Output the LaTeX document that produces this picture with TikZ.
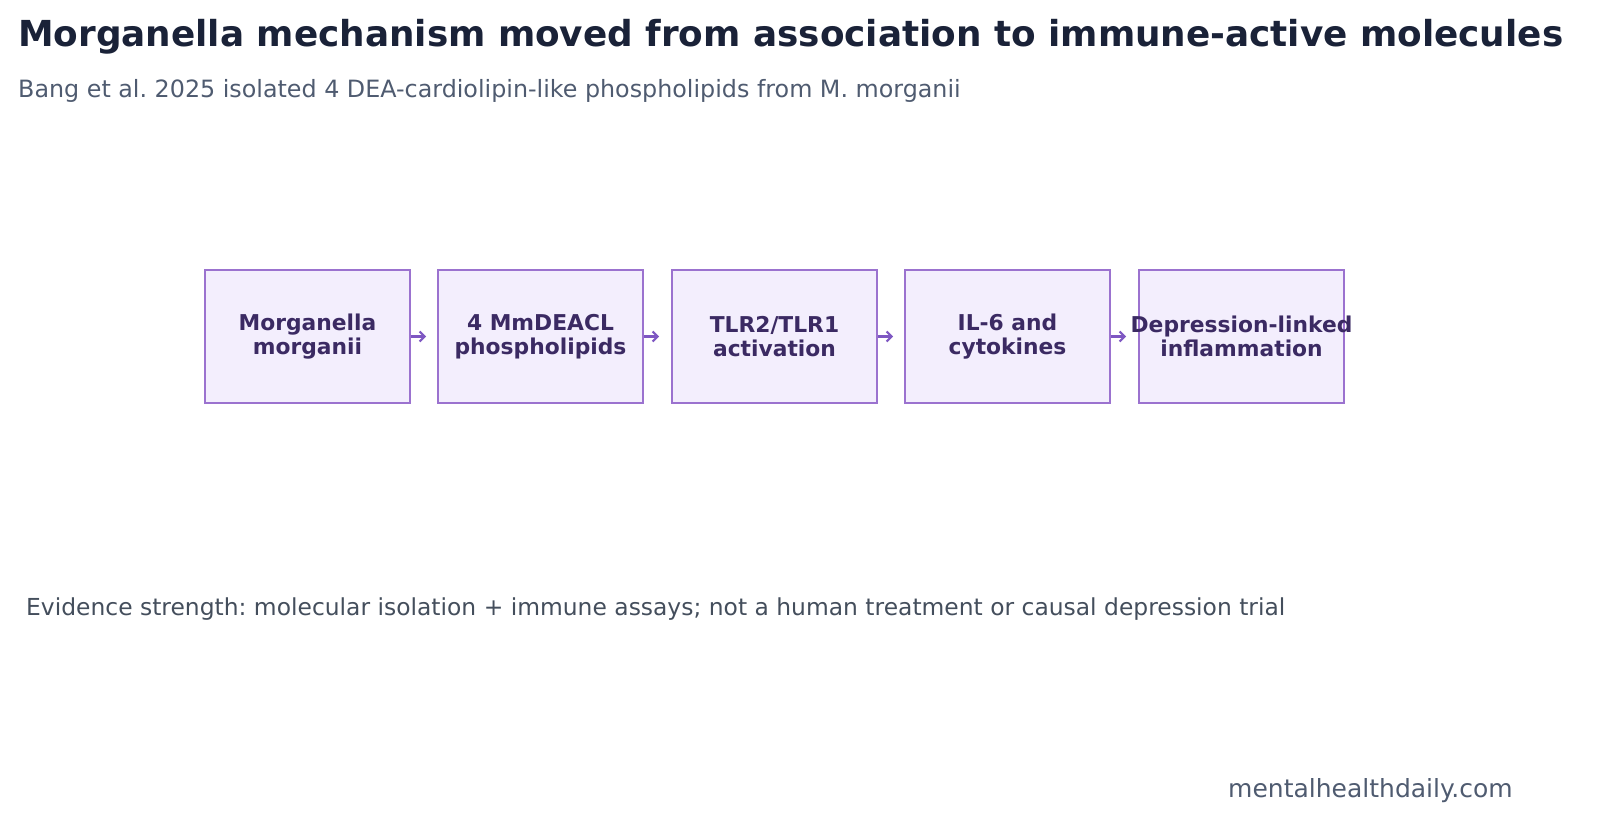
\documentclass[tikz,border=0pt]{standalone}
\usepackage{fontspec}
\setmainfont{DejaVu Sans}
\usetikzlibrary{arrows.meta}
\definecolor{titlec}{HTML}{1A2238}
\definecolor{subc}{HTML}{4F5B70}
\definecolor{boxfill}{HTML}{F3EEFD}
\definecolor{boxline}{HTML}{9B72CF}
\definecolor{boxtext}{HTML}{3B2A63}
\definecolor{arrc}{HTML}{7E57C2}
\definecolor{evc}{HTML}{444E5C}
\frenchspacing
\tikzset{
 stepbox/.style={draw=boxline,line width=2.4pt,fill=boxfill,minimum width=205pt,minimum height=133pt,inner sep=0pt,align=center,text=boxtext,font=\fontsize{21.8}{24.5}\selectfont\bfseries},
 flow/.style={draw=arrc,line width=2.2pt,-{Straight Barb[length=5pt,width=10pt]}}
}
\begin{document}
\begin{tikzpicture}[x=1pt,y=-1pt]
\useasboundingbox (0,0) rectangle (1597,819);
\node[anchor=base west,text=titlec,font=\fontsize{35.8}{40}\selectfont\bfseries,inner sep=0pt] (t) at (18,46) {Morganella mechanism moved from association to immune-active molecules};
\node[anchor=base west,text=subc,font=\fontsize{23.8}{28}\selectfont,inner sep=0pt] (s) at (18,97) {Bang et al. 2025 isolated 4 DEA-cardiolipin-like phospholipids from M. morganii};
\node[stepbox] (b1) at (307.5,336.5) {Morganella\\morganii};
\node[stepbox] (b2) at (540.5,336.5) {4 MmDEACL\\phospholipids};
\node[stepbox] (b3) at (774.5,336.5) {TLR2/TLR1\\activation};
\node[stepbox] (b4) at (1007.5,336.5) {IL-6 and\\cytokines};
\node[stepbox] (b5) at (1241.5,336.5) {\makebox[203pt]{Depression-linked}\\inflammation};
\foreach \a/\b in {b1/b2,b2/b3,b3/b4,b4/b5}{
 \coordinate (e\a) at ([xshift=15pt]\a.east);
 \draw[flow] (\a.east) -- (e\a);
}
\node[anchor=base west,text=evc,font=\fontsize{23.4}{28}\selectfont,inner sep=0pt] (ev) at (26,615) {Evidence strength: molecular isolation + immune assays; not a human treatment or causal depression trial};
\node[anchor=base west,text=subc,font=\fontsize{25}{28}\selectfont,inner sep=0pt] (ft) at (1228,797) {mentalhealthdaily.com};
\end{tikzpicture}
\end{document}
